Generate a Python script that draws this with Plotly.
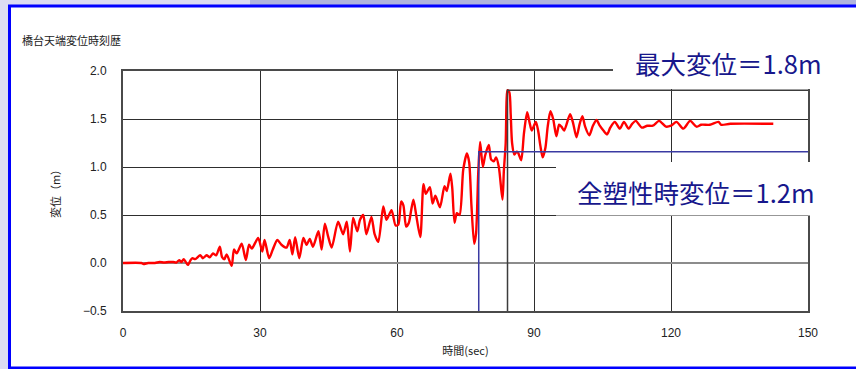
import plotly.graph_objects as go

# Abutment top displacement time history (time in s, displacement in m)
time_s = [
    0, 4, 4.5, 5.5, 7, 8, 9, 10, 11, 11.7, 12.3, 12.8, 13.3, 14.2, 14.8, 15.2,
    15.8, 16.9, 17.5, 18.3, 19, 19.7, 20.4, 21.2, 21.7, 22.2, 22.7, 23.8, 24.3,
    24.9, 26, 26.9, 27.6, 28.2, 29.6, 30.5, 31, 32, 32.8, 33.8, 34.7, 35.8,
    36.5, 37.1, 37.7, 38.6, 39.5, 40.2, 40.9, 41.6, 42.8, 43.5, 44.2, 44.9,
    45.7, 47.1, 48.2, 49, 49.7, 50.4, 51.3, 51.9, 52.6, 53.3, 54.4, 55.1, 55.9,
    57, 57.7, 58.8, 59.7, 60.3, 60.9, 61.4, 62, 62.6, 63.1, 63.6, 64.2, 65.1,
    65.8, 66.3, 67.2, 67.8, 68.4, 69.4, 70.4, 70.9, 71.7, 72.1, 72.6, 73.1,
    73.7, 74.5, 75.3, 75.8, 76.3, 76.9, 77.3, 77.8, 78.2, 78.8, 79.3, 80.1,
    80.6, 81.2, 81.7, 82.3, 83.1, 83.4, 83.8, 84.0, 84.2, 84.6, 84.9, 85.2,
    85.7, 86.2, 86.5, 87.2, 87.8, 88.5, 89, 89.5, 90.4, 90.9, 91.4, 91.9, 92.5,
    93, 93.6, 94.2, 94.9, 95.5, 96, 96.6, 97.9, 98.6, 99.3, 100, 100.6, 101.2,
    102.1, 102.9, 103.7, 104.4, 105.2, 106, 106.7, 107.7, 108.8, 109.7, 110.7,
    111.5, 112.3, 113.6, 114.8, 116, 117.4, 118.9, 120, 121.2, 122.7, 124.2,
    125.6, 126.6, 128.5, 130.4, 131, 133, 142.4,
]
disp_m = [
    0, 0, -0.01, 0.0, 0.0, 0.01, 0.005, 0.01, 0.01, 0.005, 0.03, 0.01, 0.04,
    -0.02, 0.03, 0.05, 0.04, 0.08, 0.05, 0.08, 0.06, 0.1, 0.08, 0.17, 0.06,
    0.04, 0.09, -0.03, 0.14, 0.1, 0.2, 0.03, 0.19, 0.15, 0.26, 0.12, 0.24,
    0.05, 0.14, 0.24, 0.19, 0.16, 0.24, 0.09, 0.27, 0.05, 0.26, 0.19, 0.25,
    0.17, 0.33, 0.14, 0.41, 0.28, 0.16, 0.43, 0.3, 0.43, 0.12, 0.47, 0.33,
    0.45, 0.5, 0.3, 0.48, 0.3, 0.22, 0.59, 0.45, 0.55, 0.39, 0.4, 0.64, 0.6,
    0.38, 0.42, 0.55, 0.66, 0.5, 0.27, 0.82, 0.72, 0.79, 0.62, 0.7, 0.58, 0.8,
    0.75, 0.93, 0.78, 0.42, 0.52, 0.5, 0.97, 1.14, 1.05, 0.6, 0.2, 0.3, 0.95,
    1.26, 1.0, 1.12, 1.23, 1.08, 1.06, 1.1, 1.0, 0.66, 0.96, 1.25, 1.7, 1.8,
    1.78, 1.55, 1.25, 1.13, 1.16, 1.15, 1.07, 1.35, 1.57, 1.47, 1.38, 1.47,
    1.38, 1.22, 1.1, 1.2, 1.42, 1.58, 1.5, 1.32, 1.44, 1.42, 1.38, 1.55, 1.45,
    1.31, 1.45, 1.53, 1.42, 1.33, 1.43, 1.49, 1.43, 1.38, 1.34, 1.41, 1.47,
    1.4, 1.47, 1.4, 1.45, 1.48, 1.41, 1.43, 1.43, 1.48, 1.42, 1.43, 1.47, 1.4,
    1.48, 1.42, 1.44, 1.44, 1.47, 1.44, 1.45, 1.45,
]

# Peak response and full-plastic (yield) point
t_max, d_max = 84.2, 1.8
t_yield, d_yield = 77.9, 1.16

x_ticks = [0, 30, 60, 90, 120, 150]
y_ticks = [-0.5, 0.0, 0.5, 1.0, 1.5, 2.0]

W, H = 856, 369
ML, MR, MT, MB = 123, 48, 71, 58
PW, PH = W - ML - MR, H - MT - MB


def px(x):
    return (x - ML) / PW


def py(y):
    return (H - MB - y) / PH


CJK = "Noto Sans CJK JP, Noto Sans CJK SC, sans-serif"
NUM = "Liberation Sans Narrow, Arial Narrow, Liberation Sans, Arial, sans-serif"
NAVY = "#17178c"

fig = go.Figure()
fig.add_trace(go.Scatter(x=time_s, y=disp_m, mode="lines",
                         line=dict(color="#ff0000", width=2.4,
                                   shape="spline", smoothing=0.7),
                         hoverinfo="skip"))
fig.add_trace(go.Scatter(x=[t_max, t_max, x_ticks[-1]],
                         y=[y_ticks[0], d_max, d_max], mode="lines",
                         line=dict(color="#3c3c3c", width=1.5),
                         hoverinfo="skip"))
fig.add_trace(go.Scatter(x=[t_yield, t_yield, x_ticks[-1]],
                         y=[y_ticks[0], d_yield, d_yield], mode="lines",
                         line=dict(color="#3a3aa2", width=1.5),
                         hoverinfo="skip"))

shapes = [
    # lavender strip along the top edge
    dict(type="rect", xref="paper", yref="paper", layer="below",
         x0=px(250), x1=px(870), y0=py(6), y1=py(-5),
         fillcolor="#b0b4de", line=dict(width=0)),
    # white panel with blue border
    dict(type="rect", xref="paper", yref="paper", layer="below",
         x0=px(9.5), x1=px(875), y0=py(368), y1=py(6),
         fillcolor="#ffffff", line=dict(color="#0000ff", width=3)),
    # label backgrounds
    dict(type="rect", xref="paper", yref="paper", layer="above",
         x0=px(613), x1=px(853), y0=py(89), y1=py(20),
         fillcolor="#ffffff", line=dict(width=0)),
    dict(type="rect", xref="paper", yref="paper", layer="above",
         x0=px(556), x1=px(853), y0=py(215.5), y1=py(162),
         fillcolor="#ffffff", line=dict(width=0)),
]

annotations = [
    dict(text="橋台天端変位時刻歴", xref="paper", yref="paper",
         x=px(20), y=py(40), xanchor="left", yanchor="middle",
         showarrow=False, font=dict(family=CJK, size=11, color="#222222")),
    dict(text=f"最大変位＝{d_max:.1f}m", xref="paper", yref="paper",
         x=px(728), y=py(63), xanchor="center", yanchor="middle",
         showarrow=False, font=dict(family=CJK, size=25.5, color=NAVY)),
    dict(text=f"全塑性時変位＝{d_yield:.1f}m", xref="paper", yref="paper",
         x=px(696), y=py(191), xanchor="center", yanchor="middle",
         showarrow=False, font=dict(family=CJK, size=25.5, color=NAVY)),
]

axis_common = dict(showgrid=True, gridcolor="#2e2e2e", gridwidth=1,
                   showline=True, linecolor="#4a4a4a", linewidth=2,
                   mirror=True, ticks="", fixedrange=True,
                   tickfont=dict(family=NUM, size=12, color="#222222"))

fig.update_layout(
    width=W, height=H, autosize=False,
    margin=dict(l=ML, r=MR, t=MT, b=MB, pad=0),
    paper_bgcolor="#dcdcf2", plot_bgcolor="#ffffff",
    showlegend=False,
    shapes=shapes, annotations=annotations,
    xaxis=dict(range=[x_ticks[0], x_ticks[-1]], tickvals=x_ticks,
               zeroline=False, ticklabelstandoff=10,
               title=dict(text="時間(sec)", standoff=8,
                          font=dict(family=CJK, size=11, color="#222222")),
               **axis_common),
    yaxis=dict(range=[y_ticks[0], y_ticks[-1]], tickvals=y_ticks,
               tickformat=".1f", zeroline=True, zerolinecolor="#8c8c8c",
               zerolinewidth=2, ticklabelstandoff=12,
               title=dict(text="変位（m）", standoff=20,
                          font=dict(family=CJK, size=11, color="#222222")),
               **axis_common),
)

fig.write_html("out.html")
